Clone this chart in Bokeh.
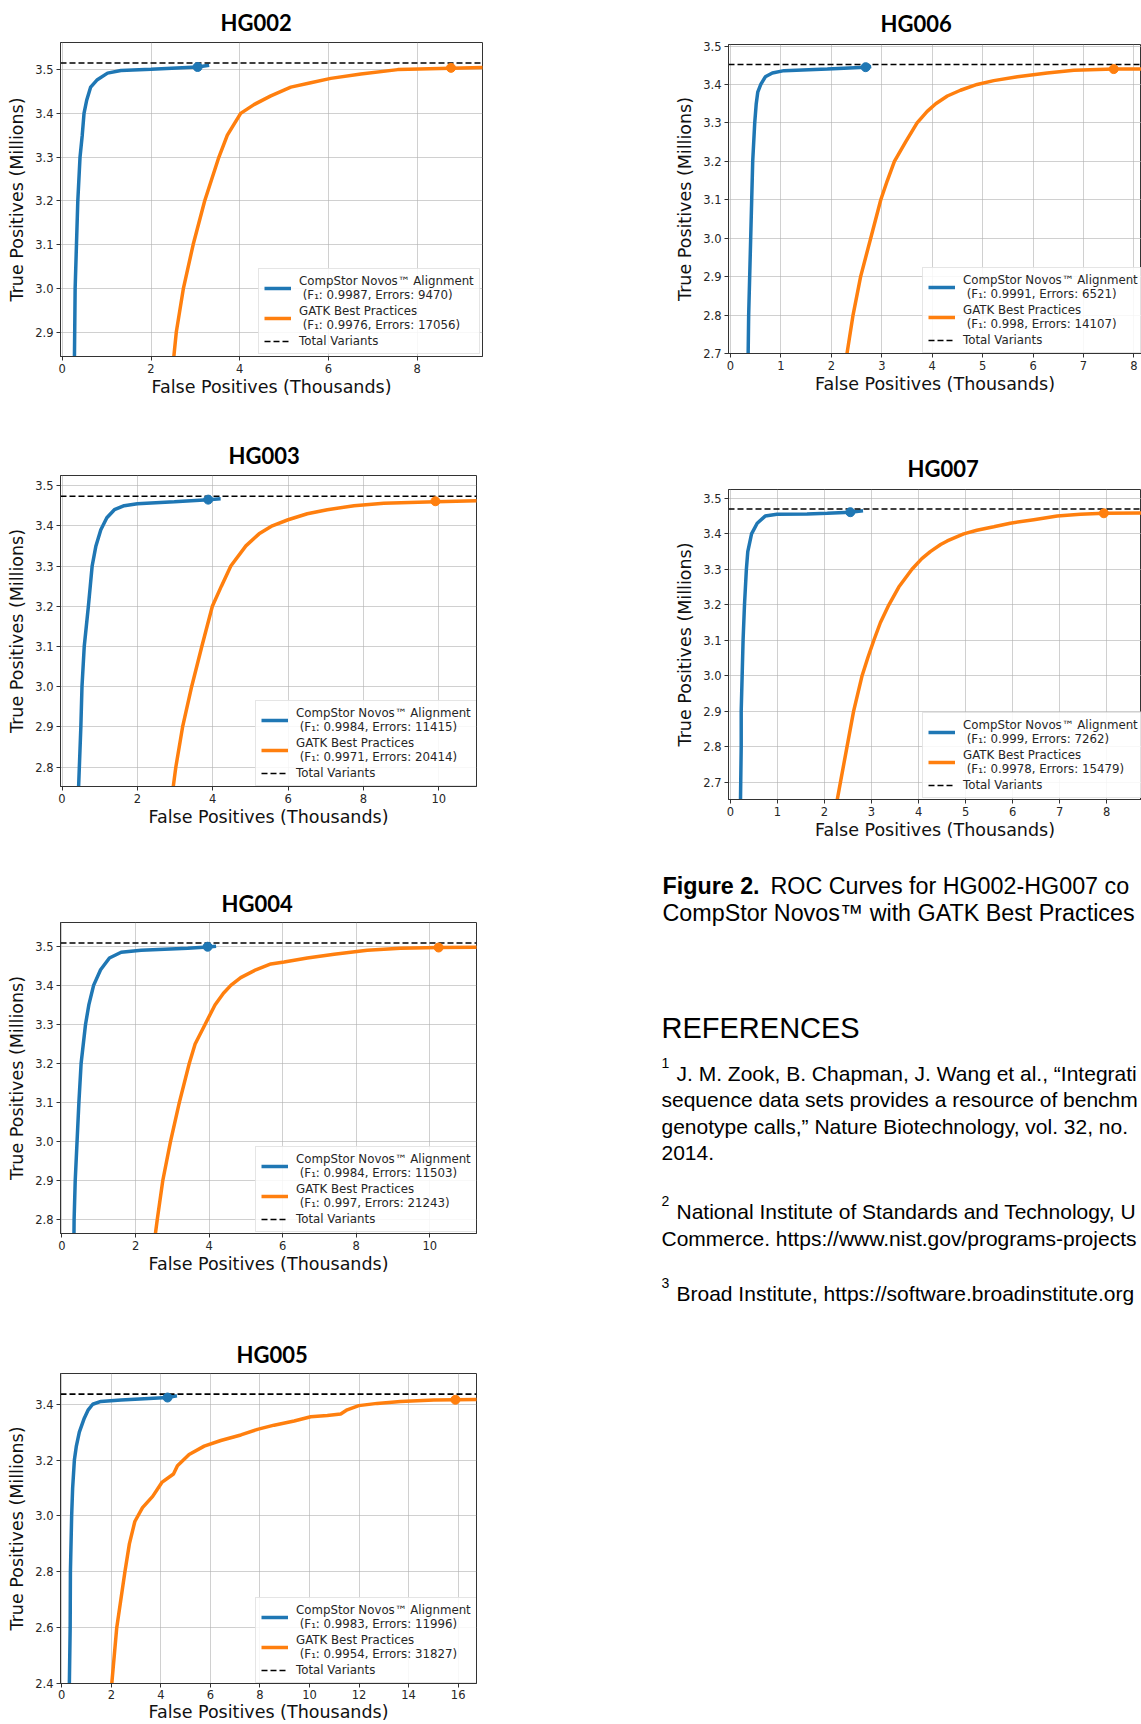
from bokeh.plotting import figure
from bokeh.models import Range1d, FixedTicker, PrintfTickFormatter, Legend, LegendItem
from bokeh.layouts import row, column
from bokeh.embed import file_html
from bokeh.resources import INLINE
from bokeh.core.properties import value

BLUE = "#1f77b4"
ORANGE = "#ff7f0e"

# ---------------- data (FP in thousands, TP in millions) ----------------
hg002_novos_fp = [0.27, 0.29, 0.32, 0.35, 0.40, 0.45, 0.49, 0.55, 0.64, 0.79, 1.02, 1.32, 2.00, 3.05, 3.31]
hg002_novos_tp = [2.80, 3.00, 3.10, 3.20, 3.30, 3.35, 3.40, 3.43, 3.46, 3.477, 3.492, 3.498, 3.501, 3.506, 3.510]
hg002_gatk_fp = [2.47, 2.57, 2.73, 2.95, 3.21, 3.53, 3.72, 4.02, 4.32, 4.70, 5.15, 5.60, 6.05, 6.73, 7.56, 8.76, 9.60]
hg002_gatk_tp = [2.80, 2.90, 3.00, 3.10, 3.20, 3.30, 3.35, 3.40, 3.42, 3.44, 3.46, 3.47, 3.48, 3.49, 3.50, 3.503, 3.505]
hg002_marker_fp = [3.05, 8.76]
hg002_marker_tp = [3.506, 3.504]
hg002_total = 3.515
hg002_f1 = [0.9987, 0.9976]
hg002_errors = [9470, 17056]
hg002_xlim = (-0.04, 9.47)
hg002_ylim = (2.844, 3.562)
hg002_xticks = [0, 2, 4, 6, 8]
hg002_yticks = [2.9, 3.0, 3.1, 3.2, 3.3, 3.4, 3.5]

hg003_novos_fp = [0.42, 0.46, 0.50, 0.53, 0.59, 0.70, 0.75, 0.80, 0.90, 1.03, 1.19, 1.39, 1.65, 2.00, 2.98, 3.88, 4.21]
hg003_novos_tp = [2.70, 2.80, 2.90, 3.00, 3.10, 3.20, 3.25, 3.30, 3.35, 3.39, 3.42, 3.44, 3.45, 3.455, 3.46, 3.465, 3.467]
hg003_gatk_fp = [2.88, 3.02, 3.20, 3.44, 3.71, 3.99, 4.23, 4.48, 4.88, 5.23, 5.58, 6.00, 6.51, 7.04, 7.75, 8.54, 9.91, 11.2]
hg003_gatk_tp = [2.70, 2.80, 2.90, 3.00, 3.10, 3.20, 3.25, 3.30, 3.35, 3.38, 3.40, 3.415, 3.43, 3.44, 3.45, 3.456, 3.46, 3.4625]
hg003_marker_fp = [3.88, 9.91]
hg003_marker_tp = [3.465, 3.461]
hg003_total = 3.4735
hg003_f1 = [0.9984, 0.9971]
hg003_errors = [11415, 20414]
hg003_xlim = (-0.04, 11.0)
hg003_ylim = (2.752, 3.525)
hg003_xticks = [0, 2, 4, 6, 8, 10]
hg003_yticks = [2.8, 2.9, 3.0, 3.1, 3.2, 3.3, 3.4, 3.5]

hg004_novos_fp = [0.32, 0.33, 0.36, 0.41, 0.46, 0.52, 0.64, 0.73, 0.86, 1.05, 1.29, 1.61, 2.15, 3.42, 3.96, 4.19]
hg004_novos_tp = [2.70, 2.80, 2.90, 3.00, 3.10, 3.20, 3.30, 3.35, 3.40, 3.44, 3.47, 3.485, 3.49, 3.495, 3.498, 3.50]
hg004_gatk_fp = [2.45, 2.59, 2.74, 2.95, 3.19, 3.46, 3.62, 3.89, 4.16, 4.39, 4.59, 4.86, 5.27, 5.68, 6.04, 6.67, 7.40, 8.30, 9.20, 10.24, 11.4]
hg004_gatk_tp = [2.70, 2.80, 2.90, 3.00, 3.10, 3.20, 3.25, 3.30, 3.35, 3.38, 3.40, 3.42, 3.44, 3.455, 3.46, 3.47, 3.48, 3.49, 3.495, 3.497, 3.4975]
hg004_marker_fp = [3.96, 10.24]
hg004_marker_tp = [3.499, 3.497]
hg004_total = 3.5085
hg004_f1 = [0.9984, 0.997]
hg004_errors = [11503, 21243]
hg004_xlim = (-0.04, 11.27)
hg004_ylim = (2.765, 3.561)
hg004_xticks = [0, 2, 4, 6, 8, 10]
hg004_yticks = [2.8, 2.9, 3.0, 3.1, 3.2, 3.3, 3.4, 3.5]

hg005_novos_fp = [0.30, 0.34, 0.35, 0.40, 0.44, 0.51, 0.59, 0.71, 0.91, 1.07, 1.25, 1.58, 2.39, 3.33, 4.27, 4.65]
hg005_novos_tp = [2.35, 2.60, 2.80, 3.00, 3.10, 3.20, 3.25, 3.30, 3.35, 3.38, 3.40, 3.41, 3.415, 3.42, 3.424, 3.43]
hg005_gatk_fp = [1.97, 2.22, 2.55, 2.73, 2.95, 3.26, 3.67, 4.04, 4.51, 4.67, 5.14, 5.75, 6.42, 7.23, 7.90, 8.57, 9.38,
                 10.05, 10.72, 11.26, 11.52, 11.99, 12.73, 13.67, 15.02, 15.89, 17.0]
hg005_gatk_tp = [2.35, 2.60, 2.80, 2.90, 2.98, 3.03, 3.07, 3.12, 3.15, 3.18, 3.22, 3.25, 3.27, 3.29, 3.31, 3.325, 3.34,
                 3.355, 3.36, 3.365, 3.38, 3.395, 3.403, 3.41, 3.415, 3.416, 3.417]
hg005_marker_fp = [4.27, 15.89]
hg005_marker_tp = [3.424, 3.416]
hg005_total = 3.436
hg005_f1 = [0.9983, 0.9954]
hg005_errors = [11996, 31827]
hg005_xlim = (-0.05, 16.74)
hg005_ylim = (2.4, 3.51)
hg005_xticks = [0, 2, 4, 6, 8, 10, 12, 14, 16]
hg005_yticks = [2.4, 2.6, 2.8, 3.0, 3.2, 3.4]

hg006_novos_fp = [0.34, 0.35, 0.36, 0.38, 0.40, 0.42, 0.44, 0.48, 0.51, 0.54, 0.60, 0.69, 0.83, 1.06, 1.92, 2.68, 2.79]
hg006_novos_tp = [2.65, 2.70, 2.80, 2.90, 3.00, 3.10, 3.20, 3.30, 3.35, 3.38, 3.40, 3.42, 3.43, 3.436, 3.44, 3.445, 3.447]
hg006_gatk_fp = [2.25, 2.31, 2.43, 2.58, 2.78, 2.98, 3.11, 3.25, 3.47, 3.70, 3.90, 4.07, 4.30, 4.56, 4.89, 5.22, 5.69, 6.28, 6.81, 7.60, 9.0]
hg006_gatk_tp = [2.65, 2.70, 2.80, 2.90, 3.00, 3.10, 3.15, 3.20, 3.25, 3.30, 3.33, 3.35, 3.37, 3.385, 3.40, 3.41, 3.42, 3.43, 3.437, 3.44, 3.441]
hg006_marker_fp = [2.68, 7.60]
hg006_marker_tp = [3.445, 3.44]
hg006_total = 3.452
hg006_f1 = [0.9991, 0.998]
hg006_errors = [6521, 14107]
hg006_xlim = (-0.04, 8.15)
hg006_ylim = (2.7, 3.504)
hg006_xticks = [0, 1, 2, 3, 4, 5, 6, 7, 8]
hg006_yticks = [2.7, 2.8, 2.9, 3.0, 3.1, 3.2, 3.3, 3.4, 3.5]

hg007_novos_fp = [0.21, 0.22, 0.23, 0.23, 0.25, 0.27, 0.30, 0.34, 0.37, 0.45, 0.57, 0.74, 0.99, 1.63, 2.06, 2.55, 2.82]
hg007_novos_tp = [2.60, 2.70, 2.80, 2.90, 3.00, 3.10, 3.20, 3.30, 3.35, 3.40, 3.43, 3.45, 3.455, 3.456, 3.458, 3.461, 3.465]
hg007_gatk_fp = [2.23, 2.34, 2.48, 2.62, 2.80, 2.92, 3.05, 3.19, 3.37, 3.58, 3.86, 4.07, 4.25, 4.47, 4.61, 4.96, 5.24, 5.60,
                 5.95, 6.45, 6.95, 7.44, 7.94, 9.0]
hg007_gatk_tp = [2.62, 2.70, 2.80, 2.90, 3.00, 3.05, 3.10, 3.15, 3.20, 3.25, 3.30, 3.33, 3.35, 3.37, 3.38, 3.40, 3.41, 3.42,
                 3.43, 3.44, 3.45, 3.455, 3.458, 3.459]
hg007_marker_fp = [2.55, 7.94]
hg007_marker_tp = [3.461, 3.458]
hg007_total = 3.47
hg007_f1 = [0.999, 0.9978]
hg007_errors = [7262, 15479]
hg007_xlim = (-0.04, 8.74)
hg007_ylim = (2.651, 3.525)
hg007_xticks = [0, 1, 2, 3, 4, 5, 6, 7, 8]
hg007_yticks = [2.7, 2.8, 2.9, 3.0, 3.1, 3.2, 3.3, 3.4, 3.5]

series_names = ["CompStor Novos™ Alignment", "GATK Best Practices", "Total Variants"]
x_label = "False Positives (Thousands)"
y_label = "True Positives (Millions)"

caption_bold = "Figure 2."
caption_lines = ["ROC Curves for HG002-HG007 co", "CompStor Novos™ with GATK Best Practices"]
refs_heading = "REFERENCES"
ref_numbers = ["1", "2", "3"]
ref_first_lines = ["J. M. Zook, B. Chapman, J. Wang et al., “Integrati",
                   "National Institute of Standards and Technology, U",
                   "Broad Institute, https://software.broadinstitute.org"]
ref_more_lines = ["sequence data sets provides a resource of benchm",
                  "genotype calls,” Nature Biotechnology, vol. 32, no.",
                  "2014.",
                  "Commerce. https://www.nist.gov/programs-projects"]

DATA = {}
for nm in ["hg002", "hg003", "hg004", "hg005", "hg006", "hg007"]:
    g = globals()
    DATA[nm] = dict(
        novos_fp=g[nm + "_novos_fp"], novos_tp=g[nm + "_novos_tp"],
        gatk_fp=g[nm + "_gatk_fp"], gatk_tp=g[nm + "_gatk_tp"],
        mk_fp=g[nm + "_marker_fp"], mk_tp=g[nm + "_marker_tp"],
        total=g[nm + "_total"], f1=g[nm + "_f1"], err=g[nm + "_errors"],
        xlim=g[nm + "_xlim"], ylim=g[nm + "_ylim"],
        xticks=g[nm + "_xticks"], yticks=g[nm + "_yticks"])

# ---------------- geometry (pixels; the page has no body margin) ----------------
LW, RW = 600, 541
GEOM = {
    "hg002": dict(w=LW, h=430, bl=60, br=118, bt=41, bb=74, toff=160, tso=12.5, loc=(198, 2)),
    "hg003": dict(w=LW, h=450, bl=60, br=124, bt=45, bb=94, toff=168, tso=14, loc=(195, 0)),
    "hg004": dict(w=LW, h=450, bl=60, br=124, bt=42, bb=97, toff=161, tso=11, loc=(195, 1)),
    "hg005": dict(w=LW, h=394, bl=60, br=124, bt=43, bb=40, toff=176, tso=12, loc=(195, 0)),
    "hg006": dict(w=RW, h=440, bl=128, br=0, bt=43, bb=87, toff=152, tso=14.5, loc=(194, 0)),
    "hg007": dict(w=RW, h=410, bl=128, br=0, bt=49, bb=51, toff=179, tso=15, loc=(194, 1)),
}


def make_panel(key):
    d = DATA[key]
    g = GEOM[key]
    p = figure(width=g["w"], height=g["h"],
               x_range=Range1d(*d["xlim"]), y_range=Range1d(*d["ylim"]),
               output_backend="svg", toolbar_location=None,
               min_border_left=g["bl"], min_border_right=g["br"],
               min_border_top=g["bt"], min_border_bottom=g["bb"],
               background_fill_color="white", border_fill_color="white")
    p.frame_align = False
    p.title.text = key.upper()
    p.title.align = "left"
    p.title.offset = g["toff"]
    p.title.text_font = "Lato"
    p.title.text_font_size = "22px"
    p.title.text_font_style = "bold"
    p.title.text_color = "black"
    p.title.standoff = g["tso"]

    p.xaxis.ticker = FixedTicker(ticks=d["xticks"])
    p.yaxis.ticker = FixedTicker(ticks=d["yticks"])
    p.xaxis.formatter = PrintfTickFormatter(format="%d")
    p.yaxis.formatter = PrintfTickFormatter(format="%.1f")
    p.xaxis.axis_label = x_label
    p.yaxis.axis_label = y_label
    for ax in (p.xaxis, p.yaxis):
        ax.axis_label_text_font = "DejaVu Sans"
        ax.axis_label_text_font_size = "17.5px"
        ax.axis_label_text_font_style = "normal"
        ax.axis_label_text_color = "#111111"
        ax.major_label_text_font = "DejaVu Sans"
        ax.major_label_text_font_size = "11.5px"
        ax.major_label_text_color = "#262626"
        ax.major_tick_out = 4
        ax.major_tick_in = 0
        ax.minor_tick_out = 0
        ax.minor_tick_in = 0
        ax.axis_line_color = "#333333"
        ax.major_tick_line_color = "#333333"
        ax.major_label_standoff = 3
    p.xaxis.axis_label_standoff = 1
    p.yaxis.axis_label_standoff = 5
    if key == "hg005":
        p.xaxis.major_label_standoff = 2
        p.xaxis.axis_label_standoff = 0
    p.grid.grid_line_color = "#b0b0b0"
    p.grid.grid_line_alpha = 0.6
    p.grid.grid_line_width = 1
    p.outline_line_color = "#333333"
    p.outline_line_width = 1

    r_n = p.line(d["novos_fp"], d["novos_tp"], line_color=BLUE, line_width=3.5)
    r_g = p.line(d["gatk_fp"], d["gatk_tp"], line_color=ORANGE, line_width=3.5)
    r_t = p.line(list(d["xlim"]), [d["total"], d["total"]], line_color="black",
                 line_dash="6 3", line_width=1.6)
    p.scatter([d["mk_fp"][0]], [d["mk_tp"][0]], marker="circle", size=9,
              fill_color=BLUE, line_color=BLUE)
    p.scatter([d["mk_fp"][1]], [d["mk_tp"][1]], marker="circle", size=9,
              fill_color=ORANGE, line_color=ORANGE)

    items = [
        LegendItem(label=f"{series_names[0]}\n (F₁: {d['f1'][0]}, Errors: {d['err'][0]})", renderers=[r_n]),
        LegendItem(label=f"{series_names[1]}\n (F₁: {d['f1'][1]}, Errors: {d['err'][1]})", renderers=[r_g]),
        LegendItem(label=series_names[2], renderers=[r_t]),
    ]
    leg = Legend(items=items, location=g["loc"],
                 label_text_font="DejaVu Sans", label_text_font_size="11.8px",
                 label_text_color="#262626", label_height=14, glyph_height=14,
                 glyph_width=27, label_standoff=8, spacing=2, padding=5, margin=0,
                 border_line_color="#cccccc", border_line_width=1,
                 background_fill_color="white", background_fill_alpha=0.85)
    p.add_layout(leg)
    return p


panels = {k: make_panel(k) for k in GEOM}

# ---------------- text block ----------------
TW, TH = RW, 480
t = figure(width=TW, height=TH, x_range=Range1d(0, TW), y_range=Range1d(TH, 0),
           output_backend="svg", toolbar_location=None, x_axis_type=None, y_axis_type=None,
           title=None, min_border=0, background_fill_color="white", border_fill_color="white")
t.frame_align = False
t.outline_line_color = None
t.grid.visible = False

FONT = value("Liberation Sans")
X0 = 61
cap = dict(text_font=FONT, text_font_size=value("23.3px"), text_color="black",
           text_baseline="alphabetic", text_align="left")
body = dict(text_font=FONT, text_font_size=value("21px"), text_color="black",
            text_baseline="alphabetic", text_align="left")
t.text(x=[62], y=[35], text=[caption_bold], text_font_style="bold", **cap)
t.text(x=[170, 62], y=[35, 62.5], text=caption_lines, **cap)
t.text(x=[X0], y=[177], text=[refs_heading], text_font=FONT, text_font_size=value("29px"),
       text_color="black", text_baseline="alphabetic")
first_base = [222.5, 361, 442.5]
t.text(x=[X0] * 3, y=[b - 10.5 for b in first_base], text=ref_numbers, text_font=FONT,
       text_font_size=value("14px"), text_color="black", text_baseline="alphabetic")
t.text(x=[76] * 3, y=first_base, text=ref_first_lines, **body)
t.text(x=[X0] * 4, y=[249.2, 275.8, 302.5, 387.7], text=ref_more_lines, **body)

left = column(panels["hg002"], panels["hg003"], panels["hg004"], panels["hg005"])
right = column(panels["hg006"], panels["hg007"], t)
page = row(left, right)

with open("out.html", "w") as f:
    f.write(file_html(page, INLINE, title="ROC curves"))
